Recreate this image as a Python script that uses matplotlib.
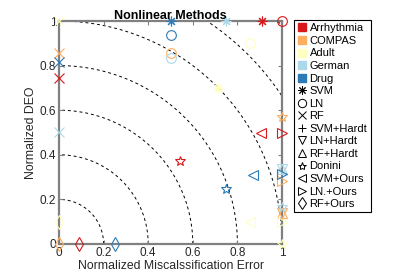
import numpy as np
import matplotlib
matplotlib.use("Agg")
import matplotlib.pyplot as plt
from matplotlib.lines import Line2D

plt.rcParams["font.family"] = ["Liberation Sans", "DejaVu Sans"]

datasets = ["Arrhythmia", "COMPAS", "Adult", "German", "Drug"]
dataset_colors = ["#d7191c", "#fdae61", "#ffffbf", "#abd9e9", "#2c7bb6"]

methods = ["SVM", "LN", "RF", "SVM+Hardt", "LN+Hardt", "RF+Hardt",
           "Donini", "SVM+Ours", "LN.+Ours", "RF+Ours"]
method_markers = [(8, 2, 0), "o", "x", "+", "v", "^", "*", "<", ">", "d"]

# one x / y list per method, in dataset order (None = not shown)
svm_x = [0.909, None, 0.714, 0.749, 0.500]
svm_y = [1.000, None, 0.698, 1.000, 1.000]
ln_x = [1.000, 0.500, 0.857, 0.500, 0.500]
ln_y = [1.000, 0.855, 0.900, 0.833, 0.937]
rf_x = [0.000, 0.000, 0.000, 0.000, 0.000]
rf_y = [0.746, 0.858, 1.000, 0.502, 0.815]
svm_hardt_x = [None, None, None, None, None]
svm_hardt_y = [None, None, None, None, None]
ln_hardt_x = [None, 1.000, None, 1.000, None]
ln_hardt_y = [None, 0.140, None, 0.335, None]
rf_hardt_x = [None, 1.000, None, 1.000, None]
rf_hardt_y = [None, 0.140, None, 0.335, None]
donini_x = [0.544, 1.000, 1.000, 1.000, 0.749]
donini_y = [0.372, 0.568, 0.000, 0.165, 0.247]
svm_ours_x = [0.906, None, 0.857, None, 0.871]
svm_ours_y = [0.499, None, 0.100, None, 0.310]
ln_ours_x = [1.000, 1.000, 1.000, None, 1.000]
ln_ours_y = [0.496, 0.283, 0.100, None, 0.315]
rf_ours_x = [0.090, 0.000, 0.000, None, 0.251]
rf_ours_y = [0.000, 0.000, 0.097, None, 0.000]

method_x = [svm_x, ln_x, rf_x, svm_hardt_x, ln_hardt_x, rf_hardt_x,
            donini_x, svm_ours_x, ln_ours_x, rf_ours_x]
method_y = [svm_y, ln_y, rf_y, svm_hardt_y, ln_hardt_y, rf_hardt_y,
            donini_y, svm_ours_y, ln_ours_y, rf_ours_y]

radii = [0.2, 0.4, 0.6, 0.8, 1.0, 1.2, 1.4]

fig = plt.figure(figsize=(4.15, 2.77), dpi=100)
ax = fig.add_axes([59 / 415, 33 / 277, 223 / 415, 223 / 277])

theta = np.linspace(0, np.pi / 2, 200)
for r in radii:
    ax.plot(r * np.cos(theta), r * np.sin(theta), color="black",
            linestyle=(0, (3, 3)), linewidth=0.7, zorder=1)

for xs, ys, marker in zip(method_x, method_y, method_markers):
    for xv, yv, col in zip(xs, ys, dataset_colors):
        if xv is None:
            continue
        ax.plot(xv, yv, linestyle="none", marker=marker, markersize=7,
                markerfacecolor="none", markeredgecolor=col,
                markeredgewidth=0.8, clip_on=False, zorder=3)

ax.set_xlim(0, 1)
ax.set_ylim(0, 1)
ticks = [0, 0.2, 0.4, 0.6, 0.8, 1]
ax.set_xticks(ticks)
ax.set_yticks(ticks)
ax.set_xticklabels(["0", "0.2", "0.4", "0.6", "0.8", "1"])
ax.set_yticklabels(["0", "0.2", "0.4", "0.6", "0.8", "1"])
ax.tick_params(direction="in", length=3, width=0.8, color="#808080",
               labelsize=8.5, labelcolor="#262626", top=True, right=True, pad=2)
for s in ax.spines.values():
    s.set_color("#808080")
    s.set_linewidth(1.6)

ax.set_xlabel("Normalized Miscalssification Error", fontsize=8.8, color="#262626", labelpad=1)
ax.set_ylabel("Normalized DEO", fontsize=8.8, color="#262626", labelpad=2)
ax.set_title("Nonlinear Methods", fontsize=9, fontweight="bold", pad=1.5)

handles = []
for name, col in zip(datasets, dataset_colors):
    handles.append(Line2D([], [], linestyle="none", marker="s", markersize=6,
                          markerfacecolor=col, markeredgecolor=col, label=name))
for name, marker in zip(methods, method_markers):
    handles.append(Line2D([], [], linestyle="none", marker=marker, markersize=6,
                          markerfacecolor="none", markeredgecolor="black",
                          markeredgewidth=0.7, label=name))

leg = fig.legend(handles=handles, loc="upper left", bbox_to_anchor=(294 / 415, 1 - 20 / 277),
                 bbox_transform=fig.transFigure, borderaxespad=0, fontsize=8,
                 handlelength=0.8, handletextpad=0.3, borderpad=0.3, labelspacing=0.23,
                 fancybox=False, framealpha=1)
leg.get_frame().set_edgecolor("black")
leg.get_frame().set_linewidth(0.8)

fig.savefig("out.png", dpi=100)
